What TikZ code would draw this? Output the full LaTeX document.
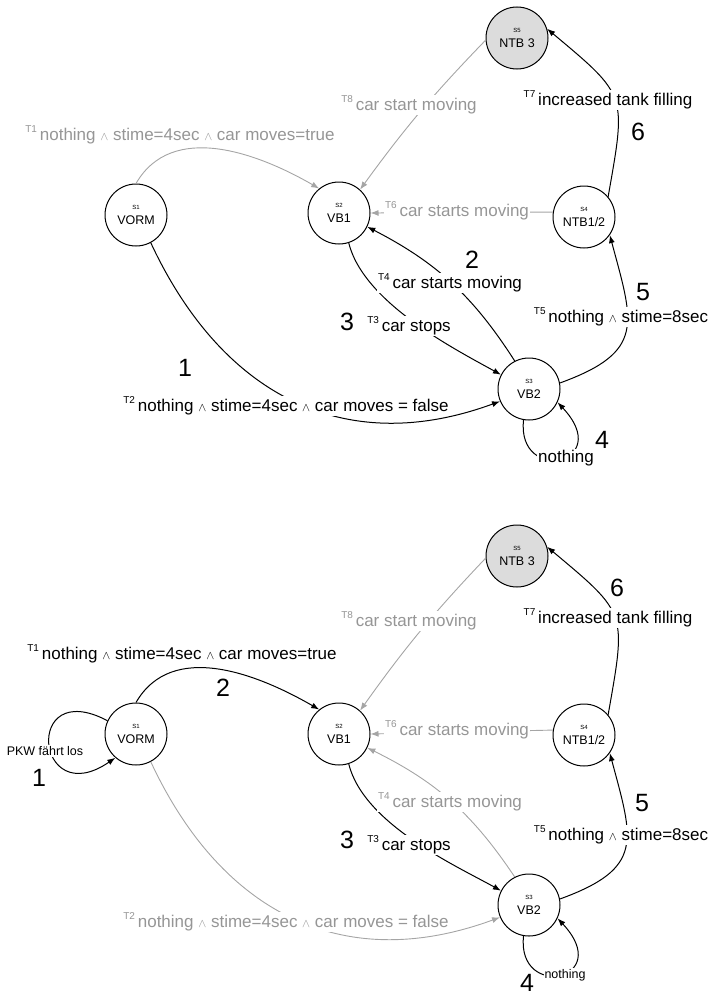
\documentclass[tikz,border=0pt]{standalone}
\usepackage{fontspec}
\setmainfont{Liberation Sans}
\usetikzlibrary{arrows.meta}

\definecolor{edgegrey}{RGB}{165,165,165}
\definecolor{textgrey}{RGB}{150,150,150}
\definecolor{ntbfill}{RGB}{220,220,220}

\newcommand{\andsign}{{\fontsize{12}{12}\selectfont$\wedge$}}
\newcommand{\trsup}[1]{\raisebox{0.45em}{\fontsize{10}{10}\selectfont T#1}\,}
\newcommand{\stname}[2]{{\fontsize{6}{6}\selectfont #1}\\[1pt]#2}

\begin{document}
\begin{tikzpicture}[x=1pt, y=-1pt,
    statenode/.style={circle, draw, line width=1pt, minimum size=62pt, inner sep=0pt, align=center, font=\fontsize{12.5}{14}\selectfont},
    blackarrow/.style={-{Latex[length=8pt,width=6pt]}, line width=1pt},
    greyarrow/.style={-{Latex[length=8pt,width=6pt]}, line width=0.9pt, draw=edgegrey},
    lbl/.style={fill=white, inner sep=1pt, font=\fontsize{17}{20}\selectfont},
    greylbl/.style={lbl, text=textgrey},
    smalllbl/.style={fill=white, inner sep=1pt, font=\fontsize{12.5}{14}\selectfont},
    bignum/.style={font=\fontsize{25}{25}\selectfont}
]
    \useasboundingbox (0,0) rectangle (713,998);

    % Upper diagram: states
    \node[statenode] (vormA) at (136,215) {\stname{S1}{VORM}};
    \node[statenode] (vboneA) at (339,213) {\stname{S2}{VB1}};
    \node[statenode, fill=ntbfill] (ntbthreeA) at (517,38) {\stname{S5}{NTB 3}};
    \node[statenode] (ntbhalfA) at (584,217) {\stname{S4}{NTB1/2}};
    \node[statenode] (vbtwoA) at (529,389) {\stname{S3}{VB2}};

    % Upper diagram: transitions
    \draw[greyarrow] (vormA.90) to[out=60,in=150] (vboneA.129);
    \draw[blackarrow] (vormA.-62) .. controls +(70,150) and +(-158,58) .. (vbtwoA.203);
    \draw[blackarrow] (vboneA.-72) .. controls +(15,60) and +(-45,-25) .. (vbtwoA.153);
    \draw[blackarrow] (vbtwoA.117) to[bend right=15] (vboneA.-26);
    \draw[blackarrow] (vbtwoA.11) to[out=20,in=-75,looseness=1.5] (ntbhalfA.-35);
    \draw[greyarrow] (ntbhalfA.171) -- (vboneA.east);
    \draw[blackarrow] (ntbhalfA.40) to[out=80,in=-40,looseness=1.5] (ntbthreeA.17);
    \draw[greyarrow] (ntbthreeA.184) to[bend right=4] (vboneA.48);
    \draw[blackarrow] (vbtwoA.-100) .. controls +(-7,65) and +(58,62) .. (vbtwoA.-25);

    % Upper diagram: labels
    \node[greylbl] (tonelabA) at (180,135) {\trsup{1}nothing \andsign{} stime=4sec \andsign{} car moves=true};
    \node[lbl] (ttwolabA) at (286,406) {\trsup{2}nothing \andsign{} stime=4sec \andsign{} car moves = false};
    \node[lbl] (tthreelabA) at (409,326) {\trsup{3}car stops};
    \node[lbl] (tfourlabA) at (450,283) {\trsup{4}car starts moving};
    \node[lbl] (tfivelabA) at (621,317) {\trsup{5}nothing \andsign{} stime=8sec};
    \node[greylbl] (tsixlabA) at (457,211) {\trsup{6}car starts moving};
    \node[lbl] (tsevenlabA) at (608,100) {\trsup{7}increased tank filling};
    \node[greylbl] (teightlabA) at (409,105) {\trsup{8}car start moving};
    \node[lbl] (looplabA) at (566,458) {nothing};
    \node[bignum] (noneA) at (185,368) {1};
    \node[bignum] (ntwoA) at (472,260) {2};
    \node[bignum] (nthreeA) at (347,322) {3};
    \node[bignum] (nfourA) at (602,440) {4};
    \node[bignum] (nfiveA) at (643,292) {5};
    \node[bignum] (nsixA) at (638,132) {6};

    % Lower diagram: states
    \node[statenode] (vormB) at (136,734) {\stname{S1}{VORM}};
    \node[statenode] (vboneB) at (339,734) {\stname{S2}{VB1}};
    \node[statenode, fill=ntbfill] (ntbthreeB) at (517,556) {\stname{S5}{NTB 3}};
    \node[statenode] (ntbhalfB) at (584,735) {\stname{S4}{NTB1/2}};
    \node[statenode] (vbtwoB) at (529,905) {\stname{S3}{VB2}};

    % Lower diagram: transitions
    \draw[blackarrow] (vormB.155) .. controls +(-85,-45) and +(-80,55) .. (vormB.229);
    \draw[blackarrow] (vormB.90) to[out=60,in=150] (vboneB.129);
    \draw[greyarrow] (vormB.-62) .. controls +(70,150) and +(-158,58) .. (vbtwoB.203);
    \draw[blackarrow] (vboneB.-72) .. controls +(15,60) and +(-45,-25) .. (vbtwoB.153);
    \draw[greyarrow] (vbtwoB.117) to[bend right=15] (vboneB.-26);
    \draw[blackarrow] (vbtwoB.11) to[out=20,in=-75,looseness=1.5] (ntbhalfB.-35);
    \draw[greyarrow] (ntbhalfB.171) -- (vboneB.east);
    \draw[blackarrow] (ntbhalfB.40) to[out=80,in=-40,looseness=1.5] (ntbthreeB.17);
    \draw[greyarrow] (ntbthreeB.184) to[bend right=4] (vboneB.48);
    \draw[blackarrow] (vbtwoB.-100) .. controls +(-7,65) and +(58,62) .. (vbtwoB.-25);

    % Lower diagram: labels
    \node[smalllbl] (pkwlab) at (45,751) {PKW fährt los};
    \node[lbl] (tonelabB) at (182,654) {\trsup{1}nothing \andsign{} stime=4sec \andsign{} car moves=true};
    \node[greylbl] (ttwolabB) at (286,922) {\trsup{2}nothing \andsign{} stime=4sec \andsign{} car moves = false};
    \node[lbl] (tthreelabB) at (409,845) {\trsup{3}car stops};
    \node[greylbl] (tfourlabB) at (450,802) {\trsup{4}car starts moving};
    \node[lbl] (tfivelabB) at (621,835) {\trsup{5}nothing \andsign{} stime=8sec};
    \node[greylbl] (tsixlabB) at (457,730) {\trsup{6}car starts moving};
    \node[lbl] (tsevenlabB) at (608,618) {\trsup{7}increased tank filling};
    \node[greylbl] (teightlabB) at (409,621) {\trsup{8}car start moving};
    \node[smalllbl] (looplabB) at (565,975) {nothing};
    \node[bignum] (noneB) at (39,778) {1};
    \node[bignum] (ntwoB) at (223,688) {2};
    \node[bignum] (nthreeB) at (347,840) {3};
    \node[bignum] (nfourB) at (527,983) {4};
    \node[bignum] (nfiveB) at (642,803) {5};
    \node[bignum] (nsixB) at (617,588) {6};
\end{tikzpicture}
\end{document}
